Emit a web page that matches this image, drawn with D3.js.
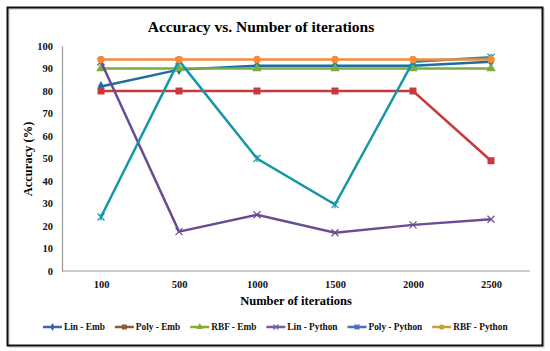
<!DOCTYPE html>
<meta charset="utf-8" />
<style>
  body { margin: 0; background: #fff; }
  text { font-family: "Liberation Serif", "Times New Roman", serif; font-weight: bold; }
</style>
<body>
<div id="chart"></div>
<script src="https://cdn.jsdelivr.net/npm/d3@7"></script>
<script>
  // data
  var iterations = ["100", "500", "1000", "1500", "2000", "2500"];
  var linEmb = [82, 89.5, 91.2, 91.2, 91.2, 93];
  var polyEmb = [80, 80, 80, 80, 80, 49];
  var rbfEmb = [90, 90, 90, 90, 90, 90];
  var linPython = [93, 17.5, 25, 17, 20.5, 23];
  var polyPython = [24, 93.5, 50, 29.5, 93, 95];
  var rbfPython = [94, 94, 94, 94, 94, 94];
  var yTicks = [0, 10, 20, 30, 40, 50, 60, 70, 80, 90, 100];

  var series = [
    { name: "Lin - Emb", values: linEmb, color: "#1b6fa0", legendColor: "#4062b0", marker: "diamond" },
    { name: "Poly - Emb", values: polyEmb, color: "#c8383f", legendColor: "#8c5a3c", marker: "square" },
    { name: "RBF - Emb", values: rbfEmb, color: "#7aab45", legendColor: "#8aaa30", marker: "triangle" },
    { name: "Lin - Python", values: linPython, color: "#6a4c94", legendColor: "#7060a8", marker: "x" },
    { name: "Poly - Python", values: polyPython, color: "#1597a8", legendColor: "#4a6fb4", marker: "star" },
    { name: "RBF - Python", values: rbfPython, color: "#f58a3c", legendColor: "#c8a030", marker: "circle" }
  ];

  var width = 550, height = 351;
  var svg = d3.select("#chart").append("svg")
    .attr("width", width)
    .attr("height", height);

  // border
  svg.append("rect")
    .attr("x", 9).attr("y", 9)
    .attr("width", 535).attr("height", 338)
    .attr("fill", "none").attr("stroke", "#bbb").attr("stroke-width", 1);
  svg.append("rect")
    .attr("x", 7.5).attr("y", 7.5)
    .attr("width", 535).attr("height", 338)
    .attr("fill", "none").attr("stroke", "#111").attr("stroke-width", 2);

  var x = d3.scalePoint().domain(iterations).range([62, 530]).padding(0.5);
  var y = d3.scaleLinear().domain([0, 100]).range([271, 46]);

  svg.append("text")
    .attr("x", 261).attr("y", 32)
    .attr("text-anchor", "middle")
    .attr("font-size", "15.5px")
    .text("Accuracy vs. Number of iterations");

  // axes
  var yAxis = svg.append("g").attr("transform", "translate(62,0)")
    .call(d3.axisLeft(y).tickValues(yTicks).tickSize(0).tickPadding(9));
  yAxis.select(".domain").attr("stroke", "#999").attr("stroke-width", 1.2);
  yAxis.selectAll("text").attr("font-size", "10.5px").attr("fill", "#111")
    .attr("font-family", "Liberation Serif");

  var xAxis = svg.append("g").attr("transform", "translate(0,271)")
    .call(d3.axisBottom(x).tickSize(0).tickPadding(10));
  xAxis.select(".domain").attr("stroke", "#999").attr("stroke-width", 1.2)
    .attr("d", "M62,0H530");
  xAxis.selectAll("text").attr("font-size", "10.5px").attr("fill", "#111")
    .attr("font-family", "Liberation Serif");

  svg.append("text")
    .attr("transform", "translate(32,159) rotate(-90)")
    .attr("text-anchor", "middle")
    .attr("font-size", "12.5px")
    .text("Accuracy (%)");

  svg.append("text")
    .attr("x", 296).attr("y", 305)
    .attr("text-anchor", "middle")
    .attr("font-size", "12.5px")
    .text("Number of iterations");

  function markerPath(type, s) {
    if (type === "diamond") return d3.symbol(d3.symbolDiamond, s * s * 0.7)();
    if (type === "square") return d3.symbol(d3.symbolSquare, s * s)();
    if (type === "triangle") return d3.symbol(d3.symbolTriangle, s * s * 0.8)();
    if (type === "circle") return d3.symbol(d3.symbolCircle, s * s * 0.85)();
    var h = s / 2;
    if (type === "x") return "M" + (-h) + "," + (-h) + "L" + h + "," + h + "M" + (-h) + "," + h + "L" + h + "," + (-h);
    return "M" + (-h) + "," + (-h) + "L" + h + "," + h + "M" + (-h) + "," + h + "L" + h + "," + (-h) + "M0," + (-h) + "L0," + h;
  }

  var line = d3.line()
    .x(function (d, i) { return x(iterations[i]); })
    .y(function (d) { return y(d); });

  series.forEach(function (s) {
    var g = svg.append("g");
    g.append("path")
      .attr("d", line(s.values))
      .attr("fill", "none")
      .attr("stroke", s.color)
      .attr("stroke-width", 2.5);
    g.selectAll("path.m")
      .data(s.values)
      .enter()
      .append("path")
      .attr("class", "m")
      .attr("transform", function (d, i) { return "translate(" + x(iterations[i]) + "," + y(d) + ")"; })
      .attr("d", markerPath(s.marker, 7))
      .attr("fill", (s.marker === "x" || s.marker === "star") ? "none" : s.color)
      .attr("stroke", s.color)
      .attr("stroke-width", (s.marker === "x" || s.marker === "star") ? 1.2 : 0);
  });

  // legend
  var legend = svg.append("g").attr("transform", "translate(0,327)");
  var items = legend.selectAll("g").data(series).enter().append("g");
  items.append("line")
    .attr("x1", 0).attr("x2", 19).attr("y1", 0).attr("y2", 0)
    .attr("stroke", function (d) { return d.legendColor; })
    .attr("stroke-width", 2.5);
  items.append("path")
    .attr("transform", "translate(9.5,0)")
    .attr("d", function (d) { return markerPath(d.marker, 5); })
    .attr("fill", function (d) { return (d.marker === "x" || d.marker === "star") ? "none" : d.legendColor; })
    .attr("stroke", function (d) { return d.legendColor; })
    .attr("stroke-width", function (d) { return (d.marker === "x" || d.marker === "star") ? 1.2 : 0; });
  items.append("text")
    .attr("x", 21).attr("y", 3.3)
    .attr("font-size", "9.3px")
    .attr("fill", "#111")
    .text(function (d) { return d.name; });

  var pos = 0, offsets = [];
  items.each(function () {
    offsets.push(pos);
    pos += 21 + d3.select(this).select("text").node().getComputedTextLength() + 10;
  });
  var start = 43;
  items.attr("transform", function (d, i) { return "translate(" + (start + offsets[i]) + ",0)"; });
</script>
</body>
